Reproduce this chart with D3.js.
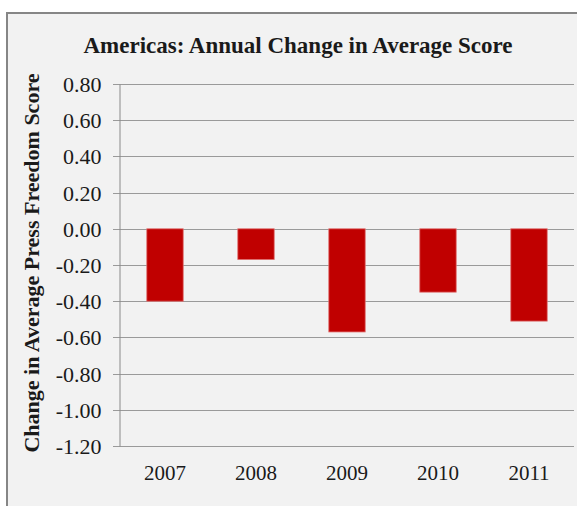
<!DOCTYPE html>
<html>
<head>
<meta charset="utf-8">
<script src="https://cdn.jsdelivr.net/npm/d3@7"></script>
<style>
  body { margin: 0; background: #fff; }
  svg { display: block; }
</style>
</head>
<body>
<svg></svg>
<script>
// Data.
const years = ['2007', '2008', '2009', '2010', '2011'];
const changes = [-0.40, -0.17, -0.57, -0.35, -0.51];
const yTicks = [0.8, 0.6, 0.4, 0.2, 0, -0.2, -0.4, -0.6, -0.8, -1.0, -1.2];

// Set up.
const width = 577;
const height = 506;
const svg = d3.select('svg').attr('width', width).attr('height', height);
const font = '"Liberation Serif", "Times New Roman", serif';

// Chart frame.
svg.append('rect')
  .attr('x', 7).attr('y', 13)
  .attr('width', width + 10).attr('height', height + 10)
  .attr('fill', '#f2f2f2')
  .attr('stroke', '#868686')
  .attr('stroke-width', 2);

// Scales.
const x = d3.scaleBand().domain(years).range([119.5, 574.5]).paddingInner(0.6).paddingOuter(0.3);
const y = d3.scaleLinear().domain([-1.2, 0.8]).range([446, 84]);

// Gridlines.
svg.append('g')
  .selectAll('line')
  .data(yTicks)
  .join('line')
  .attr('x1', 113).attr('x2', 574)
  .attr('y1', d => Math.round(y(d)) + 0.5)
  .attr('y2', d => Math.round(y(d)) + 0.5)
  .attr('stroke', '#9a9a9a')
  .attr('stroke-width', 1.2);

// Y axis.
const yAxis = svg.append('g')
  .attr('transform', 'translate(119.5,0)')
  .call(d3.axisLeft(y).tickValues(yTicks).tickSize(6).tickSizeOuter(0));
yAxis.select('.domain').attr('stroke', '#8a8a8a');
yAxis.selectAll('.tick line').remove();
yAxis.selectAll('text')
  .attr('x', -18)
  .attr('dy', '0.34em')
  .attr('font-family', font)
  .attr('font-size', 22)
  .attr('fill', '#1a1a1a')
  .text(d => d3.format('.2f')(d).replace('−', '-'));

// Bars.
svg.append('g')
  .selectAll('rect')
  .data(changes)
  .join('rect')
  .attr('x', (d, i) => x(years[i]))
  .attr('width', x.bandwidth())
  .attr('y', d => y(Math.max(0, d)))
  .attr('height', d => Math.abs(y(d) - y(0)))
  .attr('fill', '#c00000')
  .attr('stroke', '#e07070')
  .attr('stroke-width', 0.8);

// X labels.
svg.append('g')
  .selectAll('text')
  .data(years)
  .join('text')
  .attr('x', d => x(d) + x.bandwidth() / 2)
  .attr('y', 480)
  .attr('text-anchor', 'middle')
  .attr('font-family', font)
  .attr('font-size', 21)
  .attr('fill', '#1a1a1a')
  .text(d => d);

// Title.
svg.append('text')
  .attr('x', 298)
  .attr('y', 53)
  .attr('text-anchor', 'middle')
  .attr('font-family', font)
  .attr('font-weight', 'bold')
  .attr('font-size', 23)
  .attr('fill', '#1a1a1a')
  .text('Americas: Annual Change in Average Score');

// Y axis title.
svg.append('text')
  .attr('transform', 'translate(39,263) rotate(-90)')
  .attr('text-anchor', 'middle')
  .attr('font-family', font)
  .attr('font-weight', 'bold')
  .attr('font-size', 22)
  .attr('fill', '#1a1a1a')
  .text('Change in Average Press Freedom Score');
</script>
</body>
</html>
